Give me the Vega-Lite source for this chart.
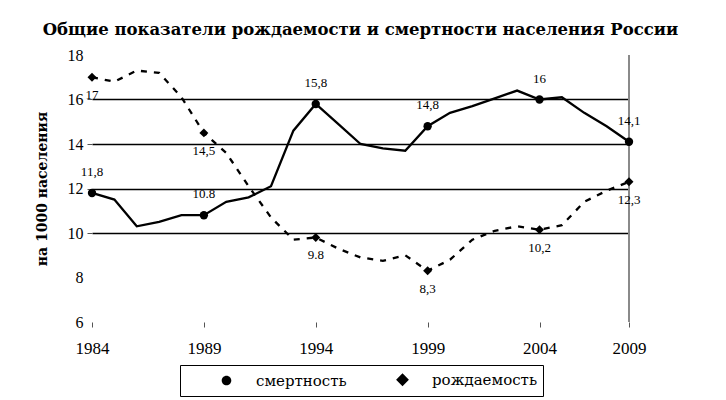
{
  "$schema": "https://vega.github.io/schema/vega-lite/v6.json",
  "width": 537,
  "height": 267,
  "autosize": {"type": "none"},
  "padding": {"left": 92, "top": 55, "right": 97, "bottom": 78},
  "background": "white",
  "title": {
    "text": "Общие показатели рождаемости и смертности населения России",
    "font": "DejaVu Serif",
    "fontSize": 16.5,
    "fontWeight": "bold",
    "color": "black",
    "anchor": "middle",
    "offset": 9
  },
  "data": {
    "values": [
      {"year": 1984, "series": "смертность", "value": 11.8, "label": "11,8"},
      {"year": 1985, "series": "смертность", "value": 11.5, "label": ""},
      {"year": 1986, "series": "смертность", "value": 10.3, "label": ""},
      {"year": 1987, "series": "смертность", "value": 10.5, "label": ""},
      {"year": 1988, "series": "смертность", "value": 10.8, "label": ""},
      {"year": 1989, "series": "смертность", "value": 10.8, "label": "10.8"},
      {"year": 1990, "series": "смертность", "value": 11.4, "label": ""},
      {"year": 1991, "series": "смертность", "value": 11.6, "label": ""},
      {"year": 1992, "series": "смертность", "value": 12.1, "label": ""},
      {"year": 1993, "series": "смертность", "value": 14.6, "label": ""},
      {"year": 1994, "series": "смертность", "value": 15.8, "label": "15,8"},
      {"year": 1995, "series": "смертность", "value": 14.9, "label": ""},
      {"year": 1996, "series": "смертность", "value": 14.0, "label": ""},
      {"year": 1997, "series": "смертность", "value": 13.8, "label": ""},
      {"year": 1998, "series": "смертность", "value": 13.7, "label": ""},
      {"year": 1999, "series": "смертность", "value": 14.8, "label": "14,8"},
      {"year": 2000, "series": "смертность", "value": 15.4, "label": ""},
      {"year": 2001, "series": "смертность", "value": 15.7, "label": ""},
      {"year": 2002, "series": "смертность", "value": 16.05, "label": ""},
      {"year": 2003, "series": "смертность", "value": 16.4, "label": ""},
      {"year": 2004, "series": "смертность", "value": 16.0, "label": "16"},
      {"year": 2005, "series": "смертность", "value": 16.1, "label": ""},
      {"year": 2006, "series": "смертность", "value": 15.4, "label": ""},
      {"year": 2007, "series": "смертность", "value": 14.8, "label": ""},
      {"year": 2009, "series": "смертность", "value": 14.1, "label": "14,1"},
      {"year": 1984, "series": "рождаемость", "value": 17.0, "label": "17"},
      {"year": 1985, "series": "рождаемость", "value": 16.8, "label": ""},
      {"year": 1986, "series": "рождаемость", "value": 17.3, "label": ""},
      {"year": 1987, "series": "рождаемость", "value": 17.2, "label": ""},
      {"year": 1988, "series": "рождаемость", "value": 16.1, "label": ""},
      {"year": 1989, "series": "рождаемость", "value": 14.5, "label": "14,5"},
      {"year": 1990, "series": "рождаемость", "value": 13.6, "label": ""},
      {"year": 1991, "series": "рождаемость", "value": 12.1, "label": ""},
      {"year": 1992, "series": "рождаемость", "value": 10.7, "label": ""},
      {"year": 1993, "series": "рождаемость", "value": 9.7, "label": ""},
      {"year": 1994, "series": "рождаемость", "value": 9.8, "label": "9.8"},
      {"year": 1995, "series": "рождаемость", "value": 9.3, "label": ""},
      {"year": 1996, "series": "рождаемость", "value": 8.9, "label": ""},
      {"year": 1997, "series": "рождаемость", "value": 8.75, "label": ""},
      {"year": 1998, "series": "рождаемость", "value": 9.0, "label": ""},
      {"year": 1999, "series": "рождаемость", "value": 8.3, "label": "8,3"},
      {"year": 2000, "series": "рождаемость", "value": 8.8, "label": ""},
      {"year": 2001, "series": "рождаемость", "value": 9.7, "label": ""},
      {"year": 2002, "series": "рождаемость", "value": 10.1, "label": ""},
      {"year": 2003, "series": "рождаемость", "value": 10.3, "label": ""},
      {"year": 2004, "series": "рождаемость", "value": 10.15, "label": "10,2"},
      {"year": 2005, "series": "рождаемость", "value": 10.35, "label": ""},
      {"year": 2006, "series": "рождаемость", "value": 11.4, "label": ""},
      {"year": 2007, "series": "рождаемость", "value": 11.9, "label": ""},
      {"year": 2009, "series": "рождаемость", "value": 12.3, "label": "12,3"}
    ]
  },
  "encoding": {
    "x": {
      "field": "year",
      "type": "ordinal",
      "scale": {
        "type": "point",
        "padding": 0,
        "domain": [1984, 1985, 1986, 1987, 1988, 1989, 1990, 1991, 1992, 1993, 1994, 1995, 1996, 1997, 1998, 1999, 2000, 2001, 2002, 2003, 2004, 2005, 2006, 2007, 2009]
      },
      "axis": {
        "title": null,
        "values": [1984, 1989, 1994, 1999, 2004, 2009],
        "labelAngle": 0,
        "domain": false,
        "grid": false,
        "ticks": true,
        "tickSize": 5,
        "tickColor": "#555",
        "labelPadding": 13,
        "labelFont": "Liberation Serif",
        "labelFontSize": 17,
        "labelColor": "black"
      }
    },
    "y": {
      "field": "value",
      "type": "quantitative",
      "scale": {"domain": [6, 18], "nice": false, "zero": false},
      "axis": {
        "title": "на 1000 населения",
        "titleFont": "DejaVu Serif",
        "titleFontSize": 14,
        "titleFontWeight": "bold",
        "titleColor": "black",
        "titlePadding": 18,
        "values": [6, 8, 10, 12, 14, 16, 18],
        "domain": false,
        "grid": true,
        "gridColor": "black",
        "gridWidth": 1.5,
        "gridOpacity": {"condition": {"test": "datum.value >= 10 && datum.value <= 16", "value": 1}, "value": 0},
        "tickOpacity": {"condition": {"test": "datum.value >= 10 && datum.value <= 16", "value": 1}, "value": 0},
        "tickSize": 5,
        "tickColor": "#555",
        "labelPadding": 4,
        "labelFont": "Liberation Serif",
        "labelFontSize": 16,
        "labelColor": "black"
      }
    }
  },
  "layer": [
    {
      "mark": {"type": "rule", "color": "#8a8a8a", "strokeWidth": 1.5},
      "encoding": {"x": {"datum": 2009, "type": "ordinal"}, "y": null}
    },
    {
      "transform": [{"filter": "datum.series == 'смертность'"}],
      "mark": {"type": "line", "color": "black", "strokeWidth": 2.3},
      "encoding": {}
    },
    {
      "transform": [{"filter": "datum.series == 'рождаемость'"}],
      "mark": {"type": "line", "color": "black", "strokeWidth": 2.3, "strokeDash": [6, 7]},
      "encoding": {}
    },
    {
      "transform": [{"filter": "datum.label != '' && datum.series == 'смертность'"}],
      "mark": {"type": "point", "shape": "circle", "filled": true, "color": "black", "opacity": 1, "size": 70}
    },
    {
      "transform": [{"filter": "datum.label != '' && datum.series == 'рождаемость'"}],
      "mark": {"type": "point", "shape": "diamond", "filled": true, "color": "black", "opacity": 1, "size": 80}
    },
    {
      "transform": [{"filter": "datum.label != ''"}],
      "mark": {"type": "point", "filled": false, "fill": "black", "stroke": "black", "strokeWidth": 2.3, "opacity": 0},
      "encoding": {
        "shape": {
          "field": "series",
          "type": "nominal",
          "scale": {
            "domain": ["смертность", "рождаемость"],
            "range": [
              "M-3.1,0L3.1,0M0.6,0A0.6,0.6,0,1,1,-0.6,0A0.6,0.6,0,1,1,0.6,0Z",
              "M-2.3,0L-1.4,0M1.4,0L2.3,0M0,-0.8L0.8,0L0,0.8L-0.8,0Z"
            ]
          },
          "legend": {
            "orient": "none",
            "legendX": 88,
            "legendY": 310,
            "direction": "horizontal",
            "title": null,
            "strokeColor": "black",
            "padding": 5,
            "columnPadding": 14,
            "symbolSize": 256,
            "symbolOffset": 32,
            "labelOffset": 20,
            "symbolFillColor": "black",
            "symbolStrokeColor": "black",
            "symbolStrokeWidth": 2.3,
            "symbolOpacity": 1,
            "labelFont": "DejaVu Serif",
            "labelFontSize": 15,
            "labelColor": "black"
          }
        }
      }
    },
    {
      "transform": [{"filter": "datum.label != '' && datum.series == 'смертность'"}],
      "mark": {"type": "text", "font": "Liberation Serif", "fontSize": 13, "color": "black", "dy": -14, "baseline": "bottom"},
      "encoding": {"text": {"field": "label"}}
    },
    {
      "transform": [{"filter": "datum.label != '' && datum.series == 'рождаемость'"}],
      "mark": {"type": "text", "font": "Liberation Serif", "fontSize": 13, "color": "black", "dy": 12, "baseline": "top"},
      "encoding": {"text": {"field": "label"}}
    }
  ],
  "config": {
    "view": {"stroke": null}
  }
}
